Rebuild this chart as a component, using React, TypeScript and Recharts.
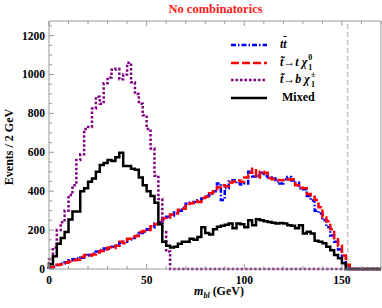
import React from 'react'
import { LineChart, Line, XAxis, YAxis, ReferenceLine } from 'recharts'

// events per 2 GeV bin, bins start at 0 GeV (missing bins = empty)
const ttbar = [
  5, 12, 20, 28, 35, 45, 50, 55, 58, 70, 72, 80, 90, 98, 106, 104, 115, 122, 135, 140,
  152, 160, 175, 185, 190, 205, 215, 235, 240, 255, 268, 275, 290, 300, 315, 335, 340, 345, 354, 362,
  375, 385, 400, 440, 355, 415, 450, 456, 440, 435, 440, 500, 475, 480, 495, 480, 470, 465, 450, 440,
  462, 473, 455, 445, 414, 410, 375, 352, 300, 285, 250, 215, 172, 140, 100, 55, 15,
]
const stopTChi0 = [
  8, 10, 22, 25, 32, 38, 45, 48, 62, 72, 70, 75, 85, 92, 100, 110, 108, 120, 140, 132,
  155, 165, 170, 190, 195, 200, 220, 230, 250, 262, 265, 280, 285, 305, 310, 325, 338, 350, 345, 365,
  372, 390, 398, 420, 430, 425, 445, 450, 455, 448, 470, 495, 516, 470, 500, 495, 468, 462, 458, 456,
  458, 460, 462, 430, 418, 415, 385, 372, 355, 318, 265, 245, 205, 160, 120, 70, 22,
]
const stopBChiPm = [
  50, 110, 200, 240, 300, 380, 430, 560, 590, 720, 730, 825, 885, 850, 955, 985, 1025, 1030, 975, 1000,
  1060, 960, 900, 850, 790, 720, 620, 480, 360, 190, 90, 0,
]
const mixed = [
  25, 65, 130, 160, 190, 255, 295, 295, 400, 415, 448, 465, 500, 535, 545, 560, 555, 575, 598, 530,
  530, 515, 510, 470, 430, 400, 375, 340, 230, 140, 120, 110, 115, 130, 140, 140, 155, 150, 165, 215,
  185, 178, 205, 217, 222, 228, 234, 209, 234, 230, 215, 251, 225, 256, 251, 245, 242, 238, 234, 236,
  234, 225, 222, 209, 225, 183, 192, 183, 145, 140, 132, 114, 97, 72, 55, 30, 0,
]

const binWidth = 2
const xMax = 170
const yMax = 1275
const endpoint = 153

const xTicks = [0, 10, 20, 30, 40, 50, 60, 70, 80, 90, 100, 110, 120, 130, 140, 150, 160, 170]
const xLabels = [0, 50, 100, 150]
const yTicks = [
  0, 50, 100, 150, 200, 250, 300, 350, 400, 450, 500, 550, 600, 650,
  700, 750, 800, 850, 900, 950, 1000, 1050, 1100, 1150, 1200, 1250,
]
const yLabels = [0, 200, 400, 600, 800, 1000, 1200]

const nBins = xMax / binWidth
const data = [{ m: 0, tt: 0, tchi: 0, bchi: 0, mix: 0 }]
for (let i = 0; i <= nBins; i++) {
  data.push({
    m: i * binWidth,
    tt: ttbar[i] ?? 0,
    tchi: stopTChi0[i] ?? 0,
    bchi: stopBChiPm[i] ?? 0,
    mix: mixed[i] ?? 0,
  })
}

const FRAME = '#9a9a9a'
const serif = '"Liberation Serif", "Times New Roman", serif'
const tickFont = { fontFamily: serif, fontWeight: 700, fontSize: 11.5 }

function BottomTick(props: any) {
  const { x, y, payload } = props
  const major = xLabels.includes(payload.value)
  return (
    <g>
      <line x1={x} x2={x} y1={y} y2={y - (major ? 5 : 3)} stroke={FRAME} />
      {major && (
        <text x={x} y={y + 15} textAnchor="middle" fill="#000" style={tickFont}>
          {payload.value}
        </text>
      )}
    </g>
  )
}

function TopTick(props: any) {
  const { x, y, payload } = props
  const major = xLabels.includes(payload.value)
  return <line x1={x} x2={x} y1={y} y2={y + (major ? 5 : 3)} stroke={FRAME} />
}

function LeftTick(props: any) {
  const { x, y, payload } = props
  const major = yLabels.includes(payload.value)
  return (
    <g>
      <line x1={x} x2={x + (major ? 5 : 3)} y1={y} y2={y} stroke={FRAME} />
      {major && (
        <text x={x - 4} y={y + 4} textAnchor="end" fill="#000" style={tickFont}>
          {payload.value}
        </text>
      )}
    </g>
  )
}

function RightTick(props: any) {
  const { x, y, payload } = props
  const major = yLabels.includes(payload.value)
  return <line x1={x} x2={x - (major ? 5 : 3)} y1={y} y2={y} stroke={FRAME} />
}

const series = [
  { key: 'tt', color: '#0000ff', dash: '5 2 1.5 2' },
  { key: 'tchi', color: '#ff0000', dash: '8 3' },
  { key: 'bchi', color: '#800080', dash: '2.5 2' },
  { key: 'mix', color: '#000000', dash: undefined },
]

const lbl = { fontFamily: serif, fontWeight: 700, fontSize: 12, color: '#000', whiteSpace: 'nowrap' as const }

function Chi({ sub, sup }: { sub: string; sup: string }) {
  return (
    <span style={{ fontStyle: 'italic' }}>
      χ
      <span style={{ position: 'relative', display: 'inline-block', width: 7, height: 10 }}>
        <span style={{ position: 'absolute', left: 1, top: -2, fontSize: 8, lineHeight: '8px', fontStyle: 'normal' }}>{sup}</span>
        <span style={{ position: 'absolute', left: 1, top: 8, fontSize: 8, lineHeight: '8px', fontStyle: 'normal' }}>{sub}</span>
      </span>
    </span>
  )
}

const legendRows = [
  { key: 'tt', label: <span style={{ fontStyle: 'italic' }}>t<span style={{ textDecoration: 'overline' }}>t</span></span> },
  { key: 'tchi', label: <span><i>t{'\u0303'}</i>→<i>t</i> <Chi sub="1" sup="0" /></span> },
  { key: 'bchi', label: <span><i>t{'\u0303'}</i>→<i>b</i> <Chi sub="1" sup="±" /></span> },
  { key: 'mix', label: <span style={{ marginLeft: 2 }}>Mixed</span> },
]

export default function App() {
  return (
    <div style={{ position: 'absolute', left: 0, top: 0, width: 382, height: 308, background: '#fff' }}>
      <LineChart width={382} height={308} data={data} margin={{ top: 20, right: 0, bottom: 0, left: 0 }}>
        <XAxis
          dataKey="m"
          type="number"
          domain={[0, xMax]}
          ticks={xTicks}
          interval={0}
          height={39}
          stroke={FRAME}
          tickLine={false}
          tickSize={0}
          tickMargin={0}
          tick={<BottomTick />}
        />
        <XAxis
          xAxisId="top"
          orientation="top"
          dataKey="m"
          type="number"
          domain={[0, xMax]}
          ticks={xTicks}
          interval={0}
          height={1}
          stroke={FRAME}
          tickLine={false}
          tickSize={0}
          tickMargin={0}
          tick={<TopTick />}
        />
        <YAxis
          type="number"
          domain={[0, yMax]}
          ticks={yTicks}
          interval={0}
          width={49}
          stroke={FRAME}
          tickLine={false}
          tickSize={0}
          tickMargin={0}
          tick={<LeftTick />}
        />
        <YAxis
          yAxisId="right"
          orientation="right"
          type="number"
          domain={[0, yMax]}
          ticks={yTicks}
          interval={0}
          width={1}
          stroke={FRAME}
          tickLine={false}
          tickSize={0}
          tickMargin={0}
          tick={<RightTick />}
        />
        <ReferenceLine x={endpoint} stroke="#aaaaaa" strokeDasharray="5 3" strokeWidth={1} />
        {series.map((s) => (
          <Line
            key={s.key}
            type="stepAfter"
            dataKey={s.key}
            stroke={s.color}
            strokeWidth={2.5}
            strokeDasharray={s.dash}
            dot={false}
            activeDot={false}
            isAnimationActive={false}
          />
        ))}
      </LineChart>

      <div style={{ position: 'absolute', left: 0, width: 431, top: 2, textAlign: 'center', ...lbl, fontSize: 12.5, color: '#ff1a1a' }}>
        No combinatorics
      </div>

      <div
        style={{
          position: 'absolute', left: 9, top: 147, ...lbl,
          transform: 'translate(-50%, -50%) rotate(-90deg)',
        }}
      >
        Events / 2 GeV
      </div>

      <div style={{ position: 'absolute', left: 0, width: 438, top: 284, textAlign: 'center', ...lbl }}>
        <i>m</i>
        <i style={{ fontSize: 8, verticalAlign: '-3px' }}>bl</i> (GeV)
      </div>

      {legendRows.map((r, i) => {
        const s = series.find((v) => v.key === r.key)!
        const cy = 45 + i * 17.5
        return (
          <div key={r.key}>
            <svg style={{ position: 'absolute', left: 231, top: cy - 3 }} width={36} height={6}>
              <line x1={0} x2={36} y1={3} y2={3} stroke={s.color} strokeWidth={2.5} strokeDasharray={s.dash} />
            </svg>
            <div style={{ position: 'absolute', left: 280, top: cy - 9, lineHeight: '16px', ...lbl }}>{r.label}</div>
          </div>
        )
      })}
    </div>
  )
}
